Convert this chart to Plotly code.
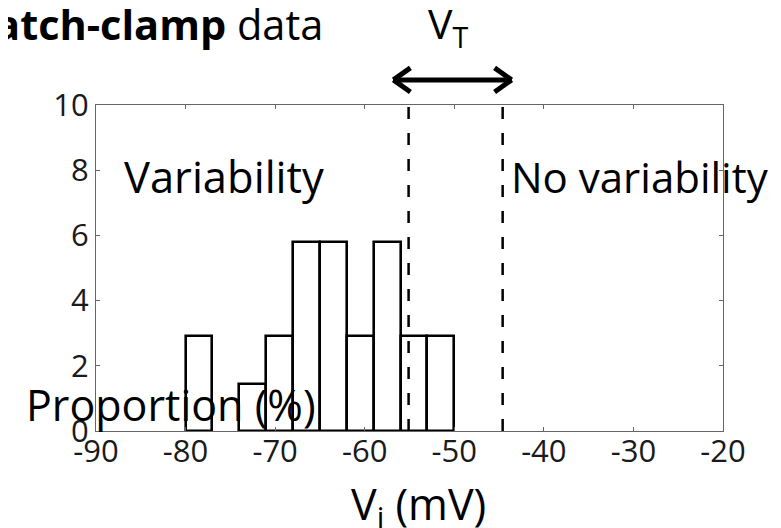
import plotly.graph_objects as go

# ---- data ----
bin_left = [-80, -77, -74, -71, -68, -65, -62, -59, -56, -53]
bin_width = 3
proportion = [2.9, 0, 1.45, 2.9, 5.8, 5.8, 2.9, 5.8, 2.9, 2.9]
vt_lines = [-55.1, -44.6]
vt_arrow = [-56.8, -43.6]
x_ticks = [-90, -80, -70, -60, -50, -40, -30, -20]
x_ticklabels = ["-90", "-80", "-70", "-60", "-50", "-40", "-30", "-20"]
y_ticks = [0, 2, 4, 6, 8, 10]

XR = [-90, -20]
YR = [0, 10]
FONT = "Open Sans"


def px(x):
    return (x - XR[0]) / (XR[1] - XR[0])


def py(y):
    return (y - YR[0]) / (YR[1] - YR[0])


centers = [b + bin_width / 2 for b in bin_left]
fig = go.Figure()
fig.add_trace(go.Bar(
    x=centers, y=proportion, width=bin_width,
    marker=dict(color="white",
                line=dict(color="black", width=[0 if v == 0 else 2.6 for v in proportion])),
    showlegend=False))

for v in vt_lines:
    fig.add_trace(go.Scatter(x=[v, v], y=YR, mode="lines",
                             line=dict(color="black", width=2.5, dash="12px,14px"),
                             showlegend=False))

# double arrow for V_T (above the plot area)
ay = py(10.77)
hx, hy = 1.9, 0.037
a0, a1 = vt_arrow
shapes = []
arrow_segs = [
    (a0, ay, a1, ay),
    (a0, ay, a0 + hx, ay + hy), (a0, ay, a0 + hx, ay - hy),
    (a1, ay, a1 - hx, ay + hy), (a1, ay, a1 - hx, ay - hy),
]
for (x0, y0, x1, y1) in arrow_segs:
    shapes.append(dict(type="line", xref="x", yref="paper", x0=x0, y0=y0, x1=x1, y1=y1,
                       line=dict(color="black", width=5), layer="above"))

ann = []


def add(text, x, y, size, xanchor="left", yanchor="middle"):
    ann.append(dict(text=text, x=px(x), y=py(y), xref="paper", yref="paper", showarrow=False,
                    xanchor=xanchor, yanchor=yanchor,
                    font=dict(family=FONT, size=size, color="black")))


add("<b>Patch-clamp</b> data", -64.4, 12.5, 41.5, xanchor="right")
add("V<sub>T</sub>", -53.2, 12.45, 41)
add("Variability", -87.1, 7.8, 43.5)
add("No variability", -43.9, 7.8, 42)
add("Proportion (%)", -98.0, 0.8, 43)
add("V<sub>i</sub> (mV)", -54.0, -2.3, 43, xanchor="center")

axis_common = dict(ticks="inside", ticklen=4, showline=True, mirror="ticks",
                   linecolor="#666", tickcolor="#666", linewidth=1.2,
                   showgrid=False, zeroline=False,
                   tickfont=dict(family=FONT, size=31, color="#1a1a1a"))

fig.update_layout(
    width=773, height=520,
    margin=dict(l=88, r=58, t=97, b=97),
    paper_bgcolor="white", plot_bgcolor="white",
    annotations=ann, shapes=shapes,
    bargap=0,
    xaxis=dict(range=XR, tickvals=x_ticks, ticktext=x_ticklabels,
               ticklabelstandoff=-7, **axis_common),
    yaxis=dict(range=YR, tickvals=y_ticks, ticklabelstandoff=0, **axis_common),
)
fig.write_html("out.html")
